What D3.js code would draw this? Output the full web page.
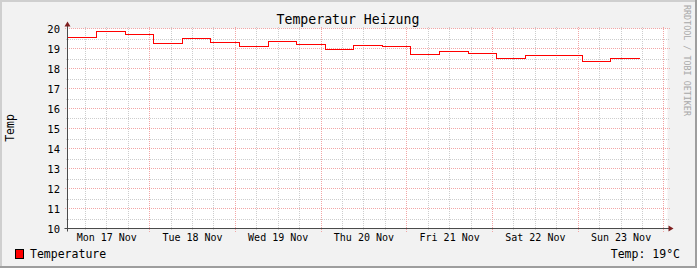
<!DOCTYPE html>
<html>
<head>
<meta charset="utf-8">
<script src="https://cdn.jsdelivr.net/npm/d3@7"></script>
<style>
  body { margin: 0; background: #fff; }
  text { font-family: "DejaVu Sans Mono", monospace; fill: #000; }
</style>
</head>
<body>
<div id="chart"></div>
<script>
// Temperature readings, step-after (start time of each step)
const times = [
  "2025-11-17T01:00", "2025-11-17T01:01", "2025-11-17T09:10", "2025-11-17T17:10",
  "2025-11-18T01:10", "2025-11-18T09:10", "2025-11-18T17:10",
  "2025-11-19T01:10", "2025-11-19T09:10", "2025-11-19T17:10",
  "2025-11-20T01:10", "2025-11-20T09:10", "2025-11-20T17:10",
  "2025-11-21T01:10", "2025-11-21T09:10", "2025-11-21T17:10",
  "2025-11-22T01:10", "2025-11-22T09:10", "2025-11-22T17:10",
  "2025-11-23T01:10", "2025-11-23T09:10", "2025-11-23T17:10"
];
const temps = [
  19.85, 19.55, 19.83, 19.70,
  19.25, 19.50, 19.30,
  19.10, 19.35, 19.21,
  18.96, 19.15, 19.10,
  18.71, 18.85, 18.75,
  18.50, 18.65, 18.65,
  18.35, 18.50, 18.50
];
const dayLabels = ["2025-11-17T12:00", "2025-11-18T12:00", "2025-11-19T12:00",
  "2025-11-20T12:00", "2025-11-21T12:00", "2025-11-22T12:00", "2025-11-23T12:00"];
const yTicks = [10, 11, 12, 13, 14, 15, 16, 17, 18, 19, 20];

const timeStart = new Date("2025-11-17T01:00");
const timeEnd = new Date("2025-11-24T01:00");

let width = 697, height = 268;
let plot = { left: 67.5, right: 667.5, top: 28.5, bottom: 228.5 };

let xPositionScale = d3.scaleTime()
  .domain([timeStart, timeEnd])
  .range([plot.left, plot.right]);

let yPositionScale = d3.scaleLinear()
  .domain([10, 20])
  .range([plot.bottom, plot.top]);

let svg = d3.select("#chart")
  .append("svg")
  .attr("width", width)
  .attr("height", height);

// background and 3D border
svg.append("rect").attr("width", width).attr("height", height).attr("fill", "#f2f2f2");
svg.append("path").attr("d", `M0,0H${width}V2H2V${height}H0Z`).attr("fill", "#cfcfcf");
svg.append("path").attr("d", `M${width},${height}H0V${height - 2}H${width - 2}V0H${width}Z`).attr("fill", "#9e9e9e");

// canvas
svg.append("rect")
  .attr("x", plot.left).attr("y", plot.top)
  .attr("width", plot.right - plot.left).attr("height", plot.bottom - plot.top)
  .attr("fill", "#ffffff");

let grid = svg.append("g").attr("shape-rendering", "crispEdges");

// minor grid: half degrees and 6 hours
let halfSteps = d3.range(10.5, 20, 1);
grid.selectAll(".hminor").data(halfSteps).join("line")
  .attr("x1", plot.left - 2).attr("x2", plot.right + 2)
  .attr("y1", d => Math.round(yPositionScale(d)) + 0.5)
  .attr("y2", d => Math.round(yPositionScale(d)) + 0.5)
  .attr("stroke", "#cdcdcd").attr("stroke-dasharray", "1,1");

let sixHours = d3.timeHour.every(6).range(timeStart, timeEnd)
  .filter(d => d.getHours() !== 0);
grid.selectAll(".vminor").data(sixHours).join("line")
  .attr("x1", d => Math.floor(xPositionScale(d)) + 0.5)
  .attr("x2", d => Math.floor(xPositionScale(d)) + 0.5)
  .attr("y1", plot.top - 2).attr("y2", plot.bottom + 2)
  .attr("stroke", "#cdcdcd").attr("stroke-dasharray", "1,1");

// major grid: whole degrees and midnights
grid.selectAll(".hmajor").data(yTicks.slice(1)).join("line")
  .attr("x1", plot.left - 3).attr("x2", plot.right + 2)
  .attr("y1", d => Math.round(yPositionScale(d) - 0.5) + 0.5)
  .attr("y2", d => Math.round(yPositionScale(d) - 0.5) + 0.5)
  .attr("stroke", "#f2a6a6").attr("stroke-dasharray", "1,1");

let midnights = d3.timeDay.range(timeStart, timeEnd);
grid.selectAll(".vmajor").data(midnights).join("line")
  .attr("x1", d => Math.floor(xPositionScale(d)) + 0.5)
  .attr("x2", d => Math.floor(xPositionScale(d)) + 0.5)
  .attr("y1", plot.top - 2).attr("y2", plot.bottom + 3)
  .attr("stroke", "#f2a6a6").attr("stroke-dasharray", "1,1");

// temperature step line
let tempLine = d3.line()
  .curve(d3.curveStepAfter)
  .x(d => xPositionScale(d.time))
  .y(d => yPositionScale(d.value));

let datapoints = times.map((t, i) => ({ time: new Date(t), value: temps[i] }));

svg.append("path")
  .attr("d", tempLine(datapoints))
  .attr("fill", "none")
  .attr("stroke", "#ff0000")
  .attr("stroke-width", 1)
  .attr("shape-rendering", "crispEdges");

// axes
svg.append("line")
  .attr("x1", plot.left - 3).attr("x2", plot.right + 2)
  .attr("y1", plot.bottom).attr("y2", plot.bottom)
  .attr("stroke", "#4a4a4a");
svg.append("line")
  .attr("x1", plot.left).attr("x2", plot.left)
  .attr("y1", plot.bottom + 3).attr("y2", plot.top - 3)
  .attr("stroke", "#4a4a4a");
svg.append("path")
  .attr("d", `M${plot.right + 6},${plot.bottom}L${plot.right + 1},${plot.bottom - 3}V${plot.bottom + 3}Z`)
  .attr("fill", "#7f1f1f");
svg.append("path")
  .attr("d", `M${plot.left},${plot.top - 7}L${plot.left - 3},${plot.top - 2}H${plot.left + 3}Z`)
  .attr("fill", "#7f1f1f");

// y tick labels
svg.selectAll(".ylab").data(yTicks).join("text")
  .attr("x", 60)
  .attr("y", d => yPositionScale(d) + 4)
  .attr("text-anchor", "end")
  .attr("font-size", "10.5px")
  .text(d => d);

// x tick labels
let dayFormat = d3.timeFormat("%a %d %b");
svg.selectAll(".xlab").data(dayLabels).join("text")
  .attr("x", d => xPositionScale(new Date(d)))
  .attr("y", 241)
  .attr("text-anchor", "middle")
  .attr("font-size", "10px")
  .text(d => dayFormat(new Date(d)));

// title
svg.append("text")
  .attr("x", 348).attr("y", 24)
  .attr("text-anchor", "middle")
  .attr("font-size", "13.2px")
  .text("Temperatur Heizung");

// vertical label
svg.append("text")
  .attr("transform", "translate(14,128) rotate(-90)")
  .attr("text-anchor", "middle")
  .attr("font-size", "11.5px")
  .text("Temp");

// watermark
svg.append("text")
  .attr("transform", "translate(684,5) rotate(90)")
  .attr("font-size", "8.4px")
  .style("fill", "#a8a8a8")
  .text("RRDTOOL / TOBI OETIKER");

// legend
svg.append("rect")
  .attr("x", 15.5).attr("y", 249.5).attr("width", 8).attr("height", 9)
  .attr("fill", "#ff0000").attr("stroke", "#000");
svg.append("text")
  .attr("x", 30).attr("y", 258)
  .attr("font-size", "11.5px")
  .text("Temperature");
svg.append("text")
  .attr("x", 680).attr("y", 258)
  .attr("text-anchor", "end")
  .attr("font-size", "11.5px")
  .text("Temp: 19°C");
</script>
</body>
</html>
